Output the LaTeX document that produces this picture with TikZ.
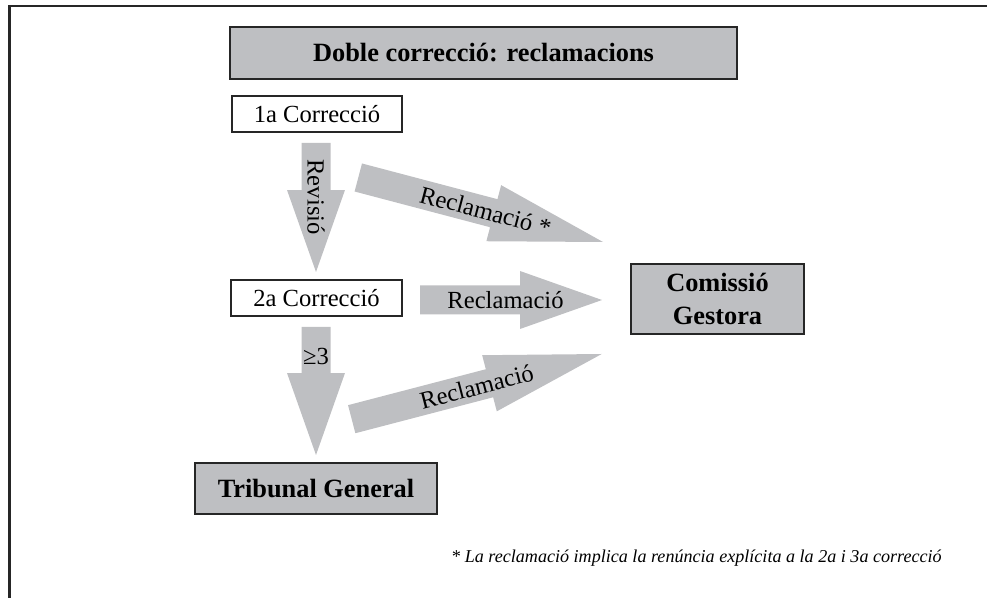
\documentclass[tikz,border=0pt]{standalone}
\usepackage{fontspec}
\setmainfont{Liberation Serif}
\usetikzlibrary{calc}
\definecolor{boxgray}{RGB}{190,191,194}
\newcommand{\fatarrow}[3][1.64cm]{%
  \path ($(#3)!#1!(#2)$) coordinate (hb);
  \fill[fat] ($(#2)!0.29cm!90:(#3)$) -- ($(hb)!0.29cm!90:(#3)$) -- ($(hb)!0.58cm!90:(#3)$) -- (#3)
    -- ($(hb)!0.58cm!-90:(#3)$) -- ($(hb)!0.29cm!-90:(#3)$) -- ($(#2)!0.29cm!-90:(#3)$) -- cycle;}

\begin{document}
\begin{tikzpicture}[x=0.02cm,y=0.02cm,
    box/.style={draw=black!85,line width=1.2pt,fill=white,inner sep=0pt,font=\fontsize{14}{16}\selectfont},
    greybox/.style={box,fill=boxgray,align=center,font=\fontsize{15}{19}\selectfont\bfseries},
    fat/.style={fill=boxgray},
    lbl/.style={inner sep=0pt,font=\fontsize{14}{16}\selectfont}]
        \useasboundingbox (0,0) rectangle (987,598);
        \draw[black!85,line width=1.4pt] (9.7,0) -- (9.7,591.8) -- (987,591.8);
        \node[greybox,minimum width=10.14cm,minimum height=1.04cm] (title) at (483.5,545) {Doble correcció: reclamacions};
        \node[box,minimum width=3.4cm,minimum height=0.72cm] (c1) at (317,484) {1a Correcció};
        \node[box,minimum width=3.42cm,minimum height=0.72cm] (c2) at (316.5,300) {2a Correcció};
        \node[greybox,minimum width=3.46cm,minimum height=1.4cm] (com) at (717.5,299) {Comissió\\Gestora};
        \node[greybox,minimum width=4.84cm,minimum height=1.02cm] (trib) at (316,109.5) {Tribunal General};
        \node[anchor=base west,font=\fontsize{10.3}{12}\selectfont\itshape] (note) at (445,35)
            {* La reclamació implica la renúncia explícita a la 2a i 3a correcció};
        \coordinate (revA) at (316,455);   \coordinate (revB) at (316,326);
        \coordinate (r1A) at (358.3,420.5); \coordinate (r1B) at (603,356);
        \coordinate (r2A) at (420,298);    \coordinate (r2B) at (602,298);
        \coordinate (geA) at (316,271);    \coordinate (geB) at (316,143);
        \coordinate (r3A) at (351.7,178.8); \coordinate (r3B) at (601.7,244);
        \fatarrow{revA}{revB}
        \fatarrow[2.26cm]{r1A}{r1B}
        \fatarrow{r2A}{r2B}
        \fatarrow{geA}{geB}
        \fatarrow[2.32cm]{r3A}{r3B}
        \node[lbl,rotate=-90] (revl) at ($(revA)!0.42!(revB)$) {Revisió};
        \node[lbl,rotate=-14.8] (r1l) at ($(r1A)!0.52!(r1B)$) {Reclamació *};
        \node[lbl] (r2l) at ($(r2A)!0.47!(r2B)$) {Reclamació};
        \node[lbl] (gel) at ($(geA)!0.23!(geB)$) {≥3};
        \node[lbl,rotate=14.6] (r3l) at ($(r3A)!0.5!(r3B)$) {Reclamació};
    \end{tikzpicture}
\end{document}
